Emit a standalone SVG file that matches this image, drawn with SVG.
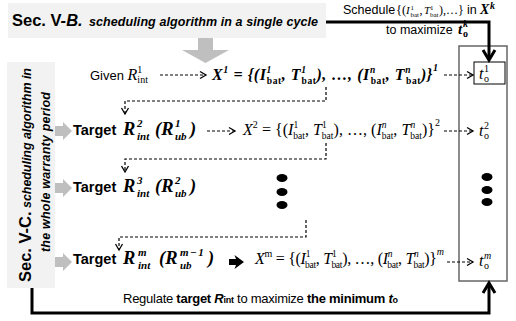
<svg xmlns="http://www.w3.org/2000/svg" width="516" height="321" viewBox="0 0 516 321">
<style>
.sans{font-family:"Liberation Sans",Arial,sans-serif}
.sb{font-family:"Liberation Sans",Arial,sans-serif;font-weight:bold}
.sbi{font-family:"Liberation Sans",Arial,sans-serif;font-weight:bold;font-style:italic}
.m{font-family:"Liberation Serif","Times New Roman",serif;font-style:italic}
.mb{font-family:"Liberation Serif","Times New Roman",serif;font-style:italic;font-weight:bold}
.up{font-style:normal}
.gbox{fill:#f2f2f2}
.garrow{fill:#bfbfbf}
.dash{fill:none;stroke:#000;stroke-width:1.2;stroke-dasharray:3 2}
.thick{fill:none;stroke:#000;stroke-width:3}
.dot{fill:#000}
.rt{font-size:18.5px}
.rs{font-size:11px}
</style>
<defs>
<marker id="dh" markerUnits="userSpaceOnUse" markerWidth="10" markerHeight="10" refX="6.5" refY="4" orient="auto" overflow="visible"><path d="M0.5,0.5 L6.5,4 L0.5,7.5" fill="none" stroke="#000" stroke-width="1.3"/></marker>
<marker id="th" markerUnits="userSpaceOnUse" markerWidth="16" markerHeight="16" refX="10" refY="8" orient="auto" overflow="visible"><path d="M2,2 L12,8 L2,14" fill="none" stroke="#000" stroke-width="3"/></marker>
</defs>

<g id="top-box">
<rect class="gbox" x="8" y="3" width="318" height="35"/>
<text class="sb" x="12" y="26" font-size="16.5">Sec. V-<tspan font-style="italic">B.</tspan></text>
<text class="sbi" x="89" y="26" font-size="12.5" textLength="229" lengthAdjust="spacing">scheduling algorithm in a single cycle</text>
</g>

<g id="down-arrow"><polygon class="garrow" points="198,38 213,38 213,50 229,50 205.5,63 182,50 198,50"/></g>

<g id="left-box">
<rect class="gbox" x="7" y="62" width="48" height="226"/>
<g transform="translate(31,282) rotate(-90)"><text class="sb" x="0" y="0" font-size="16.5">Sec. V-C.</text><text class="sbi" x="74" y="0" font-size="12.5" textLength="140" lengthAdjust="spacing">scheduling algorithm in</text></g>
<text class="sbi" transform="translate(50,252) rotate(-90)" x="0" y="0" font-size="12.5" textLength="160" lengthAdjust="spacing">the whole warranty period</text>
<polygon class="garrow" points="55,126 63,126 63,122 72,131 63,140 63,136 55,136"/>
<polygon class="garrow" points="55,183 63,183 63,179 72,188 63,197 63,193 55,193"/>
<polygon class="garrow" points="55,257 63,257 63,253 72,262 63,271 63,267 55,267"/>
</g>

<g id="right-box">
<rect x="459" y="46" width="48" height="235" fill="#fff" stroke="#666" stroke-width="1.5"/>
</g>

<g id="schedule-label">
<text y="14"><tspan class="sans" x="343" font-size="12.5">Schedule</tspan><tspan class="m up" x="396" font-size="12.5">{(</tspan><tspan class="m" x="406" font-size="11">I</tspan><tspan class="m up" x="410.5" y="9.5" font-size="7">1</tspan><tspan class="m up" x="410.5" y="16.5" font-size="7">bat</tspan><tspan class="m up" x="419.5" y="14" font-size="12">,</tspan><tspan class="m" x="424" font-size="11">T</tspan><tspan class="m up" x="430" y="9.5" font-size="7">1</tspan><tspan class="m up" x="430" y="16.5" font-size="7">bat</tspan><tspan class="m up" x="439" y="14" font-size="12">),…}</tspan><tspan class="sans" x="467" font-size="12.5">in</tspan><tspan class="mb" x="480" font-size="14">X</tspan><tspan class="mb" x="490" y="9" font-size="10">k</tspan></text>
<text y="34"><tspan class="sans" x="386" font-size="12.5">to maximize</tspan><tspan class="mb" x="458" font-size="15">t</tspan><tspan class="mb" x="463" y="27" font-size="10">k</tspan><tspan class="mb up" x="463" y="37" font-size="10">o</tspan></text>
</g>

<g id="row1-given">
<text x="90" y="80"><tspan class="sans" font-size="13">Given </tspan><tspan class="m" font-size="16">R</tspan><tspan class="m up" font-size="10" dy="-7">1</tspan><tspan class="m up" font-size="10" dx="-5" dy="10">int</tspan></text>
</g>

<g id="row1-x">
<text class="mb" x="212" y="80" font-size="16" textLength="226" lengthAdjust="spacing">X<tspan font-size="10" dy="-7">1</tspan><tspan dy="7"> = {(</tspan>I<tspan font-size="9.5" dy="-7">1</tspan><tspan class="up" font-size="9.5" dx="-5" dy="11">bat</tspan><tspan dy="-4">, </tspan>T<tspan font-size="9.5" dy="-7">1</tspan><tspan class="up" font-size="9.5" dx="-5" dy="11">bat</tspan><tspan dy="-4">), …, (</tspan>I<tspan font-size="9.5" dy="-7">n</tspan><tspan class="up" font-size="9.5" dx="-5" dy="11">bat</tspan><tspan dy="-4">, </tspan>T<tspan font-size="9.5" dy="-7">n</tspan><tspan class="up" font-size="9.5" dx="-5" dy="11">bat</tspan><tspan dy="-4">)}</tspan><tspan font-size="10" dy="-9">1</tspan></text>
</g>

<g id="to1">
<rect x="474" y="62" width="31" height="22" fill="#fff" stroke="#000" stroke-width="1"/>
<text y="79"><tspan class="m" x="479" font-size="16">t</tspan><tspan class="m up" x="484" y="72" font-size="10">1</tspan><tspan class="m up" x="484" y="82" font-size="10">o</tspan></text>
</g>

<g id="row2-target">
<text class="sb" x="73" y="135" font-size="14.5">Target</text>
<text class="mb" y="135"><tspan class="rt" x="123">R</tspan><tspan class="rs" x="137" y="127">2</tspan><tspan class="rs" x="137" y="140">int</tspan><tspan class="rt" x="155" y="135">(R</tspan><tspan class="rs" x="175" y="127">1</tspan><tspan class="rs" x="175" y="140">ub</tspan><tspan class="rt" x="190" y="135">)</tspan></text>
</g>

<g id="row2-x">
<text class="m" x="243" y="135" font-size="16" textLength="197" lengthAdjust="spacing">X<tspan class="up" font-size="10" dy="-7">2</tspan><tspan class="up" dy="7"> = {(</tspan>I<tspan class="up" font-size="9.5" dy="-7">1</tspan><tspan class="up" font-size="9.5" dx="-5" dy="11">bat</tspan><tspan class="up" dy="-4">, </tspan>T<tspan class="up" font-size="9.5" dy="-7">1</tspan><tspan class="up" font-size="9.5" dx="-5" dy="11">bat</tspan><tspan class="up" dy="-4">), …, (</tspan>I<tspan font-size="9.5" dy="-7">n</tspan><tspan class="up" font-size="9.5" dx="-5" dy="11">bat</tspan><tspan class="up" dy="-4">, </tspan>T<tspan font-size="9.5" dy="-7">n</tspan><tspan class="up" font-size="9.5" dx="-5" dy="11">bat</tspan><tspan class="up" dy="-4">)}</tspan><tspan class="up" font-size="10" dy="-9">2</tspan></text>
</g>

<g id="to2">
<text y="136"><tspan class="m" x="479" font-size="16">t</tspan><tspan class="m up" x="484" y="129" font-size="10">2</tspan><tspan class="m up" x="484" y="139" font-size="10">o</tspan></text>
</g>

<g id="row3-target">
<text class="sb" x="73" y="192" font-size="14.5">Target</text>
<text class="mb" y="192"><tspan class="rt" x="123">R</tspan><tspan class="rs" x="137" y="184">3</tspan><tspan class="rs" x="137" y="197">int</tspan><tspan class="rt" x="155" y="192">(R</tspan><tspan class="rs" x="175" y="184">2</tspan><tspan class="rs" x="175" y="197">ub</tspan><tspan class="rt" x="190" y="192">)</tspan></text>
</g>

<g id="rowm-target">
<text class="sb" x="73" y="264" font-size="14.5">Target</text>
<text class="mb" y="264"><tspan class="rt" x="123">R</tspan><tspan class="rs" x="138" y="256">m</tspan><tspan class="rs" x="138" y="269">int</tspan><tspan class="rt" x="159" y="264">(R</tspan><tspan class="rs" x="180" y="256" letter-spacing="1.5">m−1</tspan><tspan class="rs" x="180" y="269">ub</tspan><tspan class="rt" x="208" y="264">)</tspan></text>
</g>

<g id="rowm-x">
<text class="m" x="255" y="264" font-size="16" textLength="189" lengthAdjust="spacing">X<tspan class="up" font-size="10" dy="-7">m</tspan><tspan class="up" dy="7"> = {(</tspan>I<tspan class="up" font-size="9.5" dy="-7">1</tspan><tspan class="up" font-size="9.5" dx="-5" dy="11">bat</tspan><tspan class="up" dy="-4">, </tspan>T<tspan class="up" font-size="9.5" dy="-7">1</tspan><tspan class="up" font-size="9.5" dx="-5" dy="11">bat</tspan><tspan class="up" dy="-4">), …, (</tspan>I<tspan font-size="9.5" dy="-7">n</tspan><tspan class="up" font-size="9.5" dx="-5" dy="11">bat</tspan><tspan class="up" dy="-4">, </tspan>T<tspan font-size="9.5" dy="-7">n</tspan><tspan class="up" font-size="9.5" dx="-5" dy="11">bat</tspan><tspan class="up" dy="-4">)}</tspan><tspan font-size="10" dy="-9">m</tspan></text>
</g>

<g id="tom">
<text y="266"><tspan class="m" x="479" font-size="16">t</tspan><tspan class="m" x="484" y="259" font-size="10">m</tspan><tspan class="m up" x="484" y="269" font-size="10">o</tspan></text>
</g>

<g id="dots">
<ellipse class="dot" cx="282" cy="178" rx="5.5" ry="4"/>
<ellipse class="dot" cx="282" cy="192" rx="5.5" ry="4"/>
<ellipse class="dot" cx="282" cy="205" rx="5.5" ry="4"/>
<ellipse class="dot" cx="487" cy="177" rx="5.5" ry="4"/>
<ellipse class="dot" cx="487" cy="190" rx="5.5" ry="4"/>
<ellipse class="dot" cx="487" cy="202" rx="5.5" ry="4"/>
</g>

<g id="regulate-label">
<text class="sans" x="123" y="303" font-size="13" textLength="275" lengthAdjust="spacing">Regulate <tspan font-weight="bold">target </tspan><tspan font-weight="bold" font-style="italic">R</tspan><tspan font-weight="bold" font-size="9">int</tspan> to maximize <tspan font-weight="bold">the minimum </tspan><tspan font-weight="bold" font-style="italic">t</tspan><tspan font-weight="bold" font-size="9">o</tspan></text>
</g>

<g id="connectors">
<path class="thick" d="M326,22 H489 V58" marker-end="url(#th)"/>
<path class="thick" d="M32,288 V313 H489 V285" marker-end="url(#th)"/>
<path class="dash" d="M160,75 H206" marker-end="url(#dh)"/>
<path class="dash" d="M444,75 H473" marker-end="url(#dh)"/>
<path class="dash" d="M207,131 H235" marker-end="url(#dh)"/>
<path class="dash" d="M444,131 H473" marker-end="url(#dh)"/>
<path class="dash" d="M447,262 H473" marker-end="url(#dh)"/>
<path class="dash" d="M326,87 V101 H125 V114" marker-end="url(#dh)"/>
<path class="dash" d="M326,143 V159 H125 V172" marker-end="url(#dh)"/>
<path class="dash" d="M306,220 V237 H119 V250" marker-end="url(#dh)"/>
<polygon points="229,259 236,259 234.5,255 244,262 234.5,269 236,265 229,265"/>
</g>
</svg>
